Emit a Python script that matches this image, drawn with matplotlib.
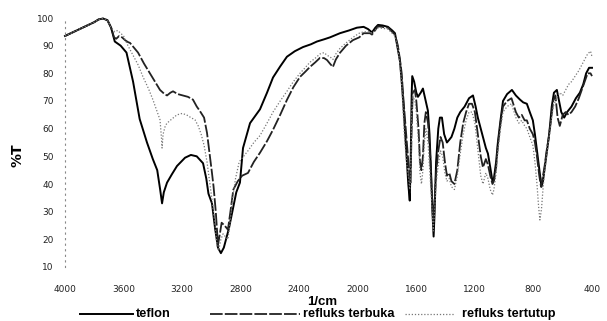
import matplotlib
matplotlib.use("Agg")
import matplotlib.pyplot as plt
from matplotlib.lines import Line2D
from matplotlib import font_manager

# ---------------- data ----------------
wn_teflon = [4000, 3960, 3920, 3880, 3840, 3800, 3770, 3740, 3710, 3685,
             3660, 3620, 3580, 3535, 3490, 3440, 3400, 3370, 3350, 3337, 3325, 3303,
             3270, 3235, 3180, 3140, 3100, 3057, 3035, 3020, 2996, 2975, 2955, 2935,
             2915, 2895, 2880, 2865, 2853, 2830, 2805, 2784, 2736, 2668, 2620, 2579,
             2530, 2484, 2430, 2374, 2320, 2279, 2230, 2190, 2122, 2060, 2006, 1960,
             1930, 1903, 1880, 1862, 1830, 1794, 1765, 1746, 1726, 1712, 1700, 1690,
             1675, 1665, 1655, 1645, 1638, 1632, 1628, 1615, 1600, 1589, 1570, 1555,
             1540, 1521, 1510, 1500, 1490, 1482, 1475, 1465, 1450, 1439, 1425, 1410,
             1391, 1375, 1360, 1340, 1320, 1300, 1270, 1240, 1213, 1195, 1180, 1160,
             1145, 1125, 1111, 1095, 1080, 1070, 1055, 1043, 1025, 1008, 980, 947,
             920, 892, 870, 845, 825, 804, 790, 776, 760, 745, 735, 720, 708, 695,
             687, 675, 660, 640, 625, 610, 590, 570, 540, 510, 483, 460, 440, 420, 400]
t_teflon = [93.5, 94.5, 95.5, 96.5, 97.5, 98.5, 99.5, 99.8, 99.2, 96.5,
            91.5, 90, 87.5, 77, 63.5, 55, 49, 45, 38, 33, 37, 40.5,
            43.5, 46.5, 49.5, 50.5, 50, 47.5, 42, 36.5, 33, 24, 17, 15,
            17, 21, 24, 28, 31, 37, 40.5, 53, 62, 67, 73, 78.5,
            82.5, 86, 88, 89.5, 90.5, 91.5, 92.3, 93, 94.5, 95.5, 96.5, 96.8,
            96, 94.8, 96.5, 97.5, 97.3, 96.8, 95.5, 94.5, 88.5, 84.5, 77, 70,
            57, 48, 40, 34, 50, 72, 79, 77, 73, 71.5, 73, 74.5,
            71, 66.5, 58, 45, 30, 21, 30, 48, 60, 64, 64, 58,
            55, 56, 57, 60, 64, 66, 68, 71, 72, 68, 64, 60,
            57, 53, 51, 46, 41, 42, 48, 55, 63, 70, 72.5, 74,
            72, 70.5, 69.5, 69, 66, 63, 58, 52, 45, 39, 41, 47, 52, 57,
            61, 68, 73, 74, 70, 66, 64, 66, 68, 71, 73, 76, 80, 82, 82]

wn_terbuka = [4000, 3960, 3920, 3880, 3840, 3800, 3770, 3740, 3710, 3685,
              3665, 3650, 3630, 3610, 3590, 3570, 3556, 3501, 3460, 3420, 3380, 3351,
              3320, 3303, 3280, 3262, 3230, 3194, 3160, 3126, 3100, 3080, 3050, 3030,
              3010, 2996, 2985, 2970, 2955, 2945, 2930, 2910, 2887, 2870, 2850, 2820,
              2790, 2750, 2710, 2668, 2620, 2579, 2530, 2484, 2440, 2395, 2360, 2327,
              2290, 2258, 2230, 2210, 2190, 2170, 2150, 2122, 2080, 2033, 1990, 1960,
              1917, 1903, 1862, 1794, 1746, 1726, 1712, 1700, 1690, 1680, 1665, 1650,
              1640, 1632, 1625, 1610, 1600, 1585, 1575, 1565, 1555, 1545, 1535, 1520,
              1505, 1495, 1485, 1478, 1465, 1450, 1435, 1420, 1405, 1391, 1375, 1360,
              1340, 1320, 1300, 1280, 1260, 1240, 1220, 1200, 1185, 1170, 1160, 1145,
              1125, 1111, 1095, 1080, 1070, 1055, 1043, 1025, 1008, 980, 950, 920,
              900, 880, 860, 845, 825, 804, 790, 776, 760, 748, 738, 725, 710, 695,
              680, 665, 650, 635, 620, 600, 580, 560, 540, 515, 490, 470, 450, 430,
              410, 400]
t_terbuka = [93.5, 94.5, 95.5, 96.5, 97.5, 98.5, 99.5, 99.8, 99.2, 96.5,
             93, 92.5, 93.5, 93, 92, 91.3, 91, 87.5, 83.5, 80, 76.5, 74,
             72.5, 72, 73, 73.5, 72.5, 72, 71.5, 70.5, 68, 66.5, 64, 58.5,
             50, 44, 39, 30, 18, 21, 26, 25, 23.5, 30, 38, 41,
             43, 44, 48, 51.3, 55.5, 59.6, 65, 70.4, 75, 78.7, 80.5, 82.3,
             84, 85.6, 85.5, 84.8, 83.5, 82.3, 85, 87.4, 90, 92, 93, 94.5,
             94.5, 94, 97, 96.5, 94, 90, 85, 80, 72, 65, 55, 45,
             40, 60, 73, 74, 70, 60, 48, 45, 50, 62, 66, 62,
             50, 38, 26, 32, 44, 52, 57, 55, 48, 43, 44, 41,
             40, 45, 55, 62, 66, 69, 69, 66, 60, 54, 50, 46,
             49, 47, 43, 40, 41, 46, 54, 62, 68, 70, 71, 66,
             64, 65, 63, 63, 60, 58, 55, 50, 43, 39, 42, 46, 52, 57,
             63, 70, 72, 64, 61, 65, 66, 65, 66, 68, 71, 74, 77, 80,
             80, 79]

wn_tertutup = [4000, 3960, 3920, 3880, 3840, 3800, 3770, 3740, 3710, 3685,
               3660, 3640, 3620, 3600, 3570, 3530, 3500, 3467, 3430, 3399, 3370, 3351,
               3340, 3337, 3330, 3315, 3303, 3270, 3235, 3200, 3170, 3140, 3112, 3090,
               3070, 3050, 3030, 3010, 2990, 2975, 2960, 2950, 2935, 2920, 2905, 2887,
               2870, 2855, 2835, 2810, 2780, 2750, 2710, 2668, 2620, 2579, 2530, 2484,
               2440, 2395, 2360, 2327, 2290, 2258, 2230, 2210, 2190, 2170, 2150, 2122,
               2080, 2033, 1990, 1960, 1917, 1903, 1862, 1794, 1746, 1726, 1712, 1700,
               1690, 1680, 1665, 1652, 1645, 1638, 1632, 1625, 1610, 1600, 1585, 1575,
               1565, 1555, 1545, 1535, 1520, 1505, 1495, 1485, 1478, 1465, 1450, 1435,
               1420, 1405, 1391, 1375, 1360, 1340, 1320, 1300, 1280, 1260, 1240, 1220,
               1200, 1185, 1170, 1160, 1145, 1125, 1111, 1095, 1080, 1070, 1055, 1043,
               1025, 1008, 980, 950, 920, 900, 880, 860, 845, 825, 804, 790,
               776, 765, 756, 745, 735, 725, 710, 695, 680, 665, 650, 635,
               620, 600, 580, 560, 540, 515, 490, 470, 450, 430, 410, 400]
t_tertutup = [93.5, 94.5, 95.5, 96.5, 97.5, 98.5, 99.5, 99.8, 99.2, 96.5,
              95, 95.5, 94.5, 93.5, 90, 86, 83, 78.7, 74.5, 70.4, 66, 63.2,
              56, 53, 58, 61, 62, 63.5, 65, 65.5, 65, 64, 63.2, 61,
              58, 54, 48, 40, 32, 25, 17, 16, 20, 22, 21, 20,
              27, 35, 42, 48, 50, 52, 55, 57.5, 62, 66, 70, 73.5,
              77, 80, 82, 84, 85.5, 87, 87.5, 86.5, 86, 85, 87, 89,
              91, 93, 94.5, 95, 95, 94.5, 96.5, 96, 93.5, 89, 83, 76,
              66, 56, 47, 42, 38, 45, 65, 72, 70, 66, 55, 44,
              40, 45, 55, 60, 55, 42, 33, 23, 28, 40, 47, 52,
              50, 44, 41, 42, 39, 38, 43, 51, 58, 63, 66, 66,
              62, 55, 48, 43, 40, 44, 42, 38, 36, 38, 44, 52,
              60, 66, 68, 69, 64, 62, 63, 61, 60, 57, 54, 48,
              40, 32, 27, 31, 38, 44, 50, 56, 62, 68, 70, 72,
              73, 72, 74, 76, 77, 79, 81, 83, 85, 87, 88, 86]

series_names = ["teflon", "refluks terbuka", "refluks tertutup"]
x_ticks = [4000, 3600, 3200, 2800, 2400, 2000, 1600, 1200, 800, 400]
y_ticks = [10, 20, 30, 40, 50, 60, 70, 80, 90, 100]

# ---------------- styles ----------------
styles = [
    dict(color="black", lw=1.4, linestyle="-"),
    dict(color="#222222", lw=1.3, linestyle=(0, (7, 1.2))),
    dict(color="#777777", lw=0.9, linestyle=(0, (1, 1.5))),
]

installed = {f.name for f in font_manager.fontManager.ttflist}
tick_family = "Liberation Sans Narrow" if "Liberation Sans Narrow" in installed else "DejaVu Sans"
tick_size = 7.8 if tick_family == "Liberation Sans Narrow" else 6.5

# ---------------- figure ----------------
fig = plt.figure(figsize=(6.07, 3.21), dpi=100)
W, H = 607.0, 321.0
ax = fig.add_axes([65 / W, 1 - 267 / H, (592 - 65) / W, (267 - 18) / H])

for wn, t, st, name in zip([wn_teflon, wn_terbuka, wn_tertutup],
                           [t_teflon, t_terbuka, t_tertutup], styles, series_names):
    ax.plot(wn, t, label=name, clip_on=False, solid_joinstyle="round", **st)

ax.set_xlim(4000, 400)
ax.set_ylim(10, 100)
ax.set_xticks(x_ticks)
ax.set_yticks(y_ticks)
ax.tick_params(axis="both", length=0, labelsize=tick_size, colors="#222222")
ax.tick_params(axis="y", pad=8)
ax.tick_params(axis="x", pad=13)
for lab in ax.get_xticklabels() + ax.get_yticklabels():
    lab.set_family(tick_family)

for s in ["top", "right", "bottom"]:
    ax.spines[s].set_visible(False)
ax.spines["left"].set_linestyle((0, (1, 4)))
ax.spines["left"].set_color("#888888")
ax.spines["left"].set_linewidth(0.8)

ax.set_ylabel("%T", fontsize=10, fontweight="bold")
ax.yaxis.set_label_coords((25 - 65) / 527, 0.45)
ax.set_xlabel("1/cm", fontsize=9.5, fontweight="bold", family="Liberation Sans")
ax.xaxis.set_label_coords((322 - 65) / 527, (267 - 296) / 249)

# ---------------- legend (below the plot) ----------------
leg_y = 1 - 314 / H
handle_px = [(80, 133), (210, 300), (405, 455)]
text_px = [136, 303, 462]
for (x0, x1), tx, st, name in zip(handle_px, text_px, styles, series_names):
    fig.add_artist(Line2D([x0 / W, x1 / W], [leg_y, leg_y], transform=fig.transFigure, **st))
    fig.text(tx / W, leg_y, name, ha="left", va="center", fontsize=9.2,
             fontweight="bold", family="Liberation Sans")

fig.savefig("out.png", dpi=100)
